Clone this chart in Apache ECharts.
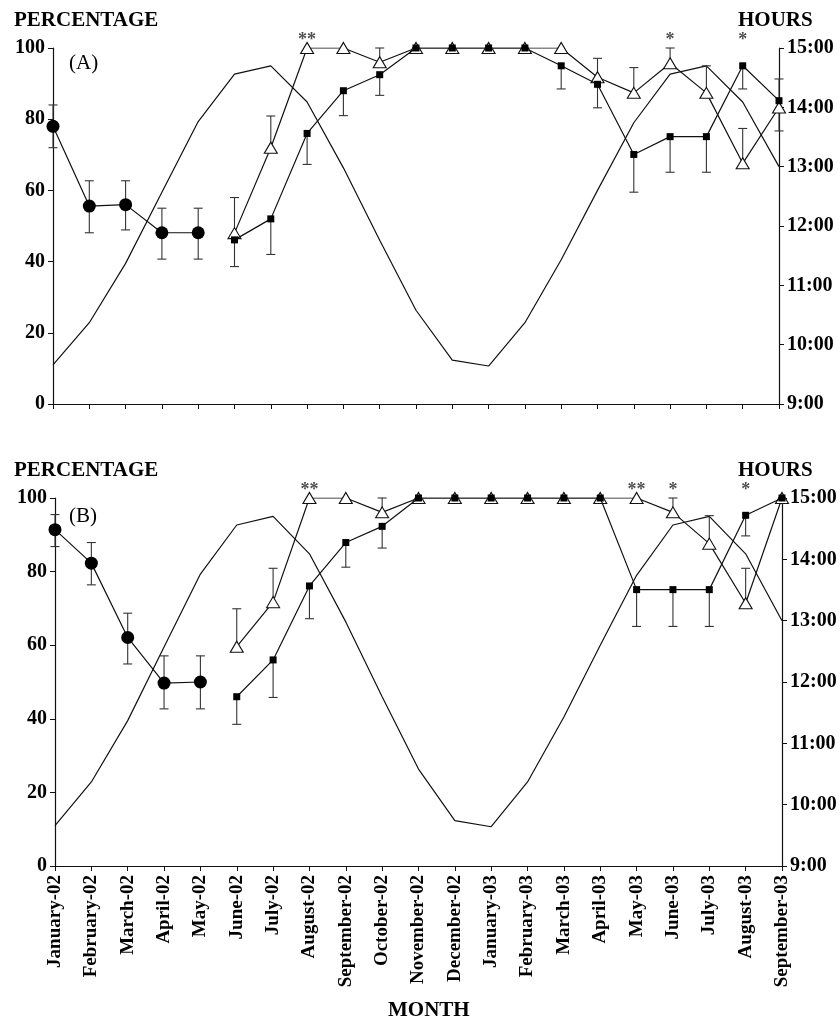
<!DOCTYPE html>
<html>
<head>
<meta charset="utf-8">
<script src="https://cdn.jsdelivr.net/npm/echarts@6/dist/echarts.min.js"></script>
<style>
  html, body { margin: 0; padding: 0; background: #fff; }
  #chart { width: 840px; height: 1020px; }
</style>
</head>
<body>
<div id="chart"></div>
<script>
// ---------- data ----------
const months = ['January-02','February-02','March-02','April-02','May-02','June-02','July-02','August-02',
  'September-02','October-02','November-02','December-02','January-03','February-03','March-03','April-03',
  'May-03','June-03','July-03','August-03','September-03'];
const hoursTicks = ['9:00','10:00','11:00','12:00','13:00','14:00','15:00'];
const pctTicks = [0, 20, 40, 60, 80, 100];

// day length (hours), same in both panels
const dayLength = [9.66, 10.37, 11.37, 12.57, 13.76, 14.56, 14.70, 14.09, 12.98, 11.76, 10.58,
  9.74, 9.64, 10.37, 11.43, 12.60, 13.74, 14.56, 14.70, 14.09, 13.00];

const _ = null;
// Panel A
const circlesA    = [78, 55.6, 56.0, 48.1, 48.1, _,_,_,_,_,_,_,_,_,_,_,_,_,_,_,_];
const circlesA_lo = [72, 48.1, 48.9, 40.7, 40.7, _,_,_,_,_,_,_,_,_,_,_,_,_,_,_,_];
const circlesA_hi = [84, 62.7, 62.7, 55.0, 55.0, _,_,_,_,_,_,_,_,_,_,_,_,_,_,_,_];
const squaresA    = [_,_,_,_,_, 46.1, 52, 76, 88, 92.5, 100, 100, 100, 100, 95, 89.8, 70.1, 75.1, 75.1, 95, 85.2];
const squaresA_lo = [_,_,_,_,_, 38.6, 42, 67.3, 81, 86.7, _, _, _, _, 88.5, 83.2, 59.5, 65.1, 65.1, 88.5, _];
const squaresA_hi = [_,_,_,_,_, _, _, _, _, _, _, _, _, _, _, _, _, _, _, _, 91.3];
const trianglesA    = [_,_,_,_,_, 48, 72, 100, 100, 96, 100, 100, 100, 100, 100, 91.8, 87.4, 95.7, 87.4, 67.6, 83.3];
const trianglesA_lo = [_,_,_,_,_, _, _, _, _, _, _, _, _, _, _, _, _, _, _, _, 76.7];
const trianglesA_hi = [_,_,_,_,_, 58, 80.9, _, _, 100, _, _, _, _, _, 97.1, 94.5, 100, 95, 77.4, _];
const starsA = [[7, '**'], [17, '*'], [19, '*']];

// Panel B
const circlesB    = [91.4, 82.3, 62.1, 49.7, 50.0, _,_,_,_,_,_,_,_,_,_,_,_,_,_,_,_];
const circlesB_lo = [86.8, 76.4, 54.9, 42.7, 42.7, _,_,_,_,_,_,_,_,_,_,_,_,_,_,_,_];
const circlesB_hi = [95.5, 87.9, 68.7, 57.1, 57.1, _,_,_,_,_,_,_,_,_,_,_,_,_,_,_,_];
const squaresB    = [_,_,_,_,_, 46, 56, 76.1, 87.9, 92.3, 100, 100, 100, 100, 100, 100, 75.1, 75.1, 75.1, 95.3, 100];
const squaresB_lo = [_,_,_,_,_, 38.5, 45.8, 67.2, 81.2, 86.4, _, _, _, _, _, _, 65.1, 65.1, 65.1, 89.7, _];
const squaresB_hi = [_,_,_,_,_, _,_,_,_,_,_,_,_,_,_,_,_,_,_,_,_];
const trianglesB    = [_,_,_,_,_, 59.6, 71.7, 100, 100, 96.1, 100, 100, 100, 100, 100, 100, 100, 96.1, 87.6, 71.4, 100];
const trianglesB_lo = [_,_,_,_,_, _,_,_,_,_,_,_,_,_,_,_,_,_,_,_,_];
const trianglesB_hi = [_,_,_,_,_, 69.9, 80.9, _, _, 100, _, _, _, _, _, _, _, 100, 95.2, 80.9, _];
const starsB = [[7, '**'], [16, '**'], [17, '*'], [19, '*']];

// ---------- helpers ----------
const FONT = 'Liberation Serif';
const INK = '#111';

function errData(vals, lo, hi) {
  const out = [];
  vals.forEach((v, i) => {
    if (v == null) return;
    const l = lo[i], h = hi[i];
    if (l == null && h == null) return;
    out.push([i, l != null ? l : v, h != null ? h : v, l != null ? 1 : 0, h != null ? 1 : 0]);
  });
  return out;
}

function errSeries(data, xi, yi) {
  return {
    type: 'custom', xAxisIndex: xi, yAxisIndex: yi, z: 3, silent: true,
    data: data,
    encode: { x: 0, y: [1, 2] },
    renderItem: function (params, api) {
      const x = api.value(0);
      const p1 = api.coord([x, api.value(1)]);
      const p2 = api.coord([x, api.value(2)]);
      const w = 4.5;
      const st = { stroke: '#333', lineWidth: 1.1 };
      const ch = [{ type: 'line', shape: { x1: p1[0], y1: p1[1], x2: p2[0], y2: p2[1] }, style: st }];
      if (api.value(3)) ch.push({ type: 'line', shape: { x1: p1[0] - w, y1: p1[1], x2: p1[0] + w, y2: p1[1] }, style: st });
      if (api.value(4)) ch.push({ type: 'line', shape: { x1: p2[0] - w, y1: p2[1], x2: p2[0] + w, y2: p2[1] }, style: st });
      return { type: 'group', children: ch };
    }
  };
}

function panelSeries(xi, yl, yr, circles, cLo, cHi, squares, sLo, sHi, tris, tLo, tHi, stars) {
  return [
    { type: 'line', xAxisIndex: xi, yAxisIndex: yr, data: dayLength, symbol: 'none',
      lineStyle: { color: INK, width: 1.2 }, z: 1, silent: true },
    errSeries(errData(circles, cLo, cHi), xi, yl),
    errSeries(errData(squares, sLo, sHi), xi, yl),
    errSeries(errData(tris, tLo, tHi), xi, yl),
    { type: 'line', xAxisIndex: xi, yAxisIndex: yl, data: circles, symbol: 'circle', symbolSize: 13,
      itemStyle: { color: '#000' }, lineStyle: { color: INK, width: 1.2 }, z: 4 },
    { type: 'line', xAxisIndex: xi, yAxisIndex: yl, data: tris, symbol: 'triangle', symbolSize: [13, 11],
      itemStyle: { color: '#fff', borderColor: '#111', borderWidth: 1.1 }, lineStyle: { color: INK, width: 1.2 }, z: 4 },
    { type: 'line', xAxisIndex: xi, yAxisIndex: yl, data: squares, symbol: 'rect', symbolSize: 7,
      itemStyle: { color: '#000' }, lineStyle: { color: INK, width: 1.2 }, z: 5 },
    { type: 'scatter', xAxisIndex: xi, yAxisIndex: yl, symbolSize: 0, z: 6, silent: true,
      data: stars.map(s => [s[0], 100, s[1]]),
      label: { show: true, position: 'inside', offset: [0, -8], formatter: p => p.data[2],
        fontFamily: FONT, fontSize: 18, fontWeight: 'bold', color: '#222' } }
  ];
}

function xAxis(gi, showLabels) {
  return {
    type: 'category', gridIndex: gi, data: months, boundaryGap: false,
    axisLine: { show: true, onZero: false, lineStyle: { color: INK, width: 1.2 } },
    axisTick: { show: true, length: 5, interval: 0, lineStyle: { color: INK } },
    axisLabel: showLabels ? { show: true, interval: 0, rotate: 90, margin: 9, fontFamily: FONT,
      fontWeight: 'bold', fontSize: 19, color: '#000' } : { show: false },
    splitLine: { show: false }
  };
}
function yLeft(gi) {
  return {
    type: 'value', gridIndex: gi, min: pctTicks[0], max: pctTicks[pctTicks.length - 1], interval: 20,
    axisLine: { show: true, lineStyle: { color: INK, width: 1.2 } },
    axisTick: { show: true, length: 5, lineStyle: { color: INK } },
    axisLabel: { fontFamily: FONT, fontWeight: 'bold', fontSize: 20, color: '#000', margin: 8 },
    splitLine: { show: false }
  };
}
function yRight(gi) {
  return {
    type: 'value', gridIndex: gi, position: 'right', min: 9, max: 15, interval: 1,
    axisLine: { show: true, lineStyle: { color: INK, width: 1.2 } },
    axisTick: { show: true, length: 5, lineStyle: { color: INK } },
    axisLabel: { fontFamily: FONT, fontWeight: 'bold', fontSize: 20, color: '#000', margin: 8,
      formatter: v => hoursTicks[Math.round(v - 9)] },
    splitLine: { show: false }
  };
}

const tStyle = (size, weight) => ({ fontFamily: FONT, fontSize: size, fontWeight: weight, color: '#000' });

const option = {
  animation: false,
  backgroundColor: '#fff',
  title: [
    { text: 'PERCENTAGE', left: 9, top: 5, textStyle: tStyle(21, 'bold') },
    { text: 'HOURS', left: 733, top: 5, textStyle: tStyle(21, 'bold') },
    { text: '(A)', left: 64, top: 48, textStyle: tStyle(21, 'normal') },
    { text: 'PERCENTAGE', left: 9, top: 455, textStyle: tStyle(21, 'bold') },
    { text: 'HOURS', left: 733, top: 455, textStyle: tStyle(21, 'bold') },
    { text: '(B)', left: 64, top: 501, textStyle: tStyle(21, 'normal') },
    { text: 'MONTH', left: 383, top: 995, textStyle: tStyle(21, 'bold') }
  ],
  grid: [
    { left: 53, right: 61, top: 48, height: 356, containLabel: false },
    { left: 55, right: 58, top: 498, height: 368, containLabel: false }
  ],
  xAxis: [xAxis(0, false), xAxis(1, true)],
  yAxis: [yLeft(0), yRight(0), yLeft(1), yRight(1)],
  series: [
    ...panelSeries(0, 0, 1, circlesA, circlesA_lo, circlesA_hi, squaresA, squaresA_lo, squaresA_hi,
      trianglesA, trianglesA_lo, trianglesA_hi, starsA),
    ...panelSeries(1, 2, 3, circlesB, circlesB_lo, circlesB_hi, squaresB, squaresB_lo, squaresB_hi,
      trianglesB, trianglesB_lo, trianglesB_hi, starsB)
  ]
};

const chart = echarts.init(document.getElementById('chart'), null, { renderer: 'canvas' });
chart.setOption(option);
</script>
</body>
</html>
